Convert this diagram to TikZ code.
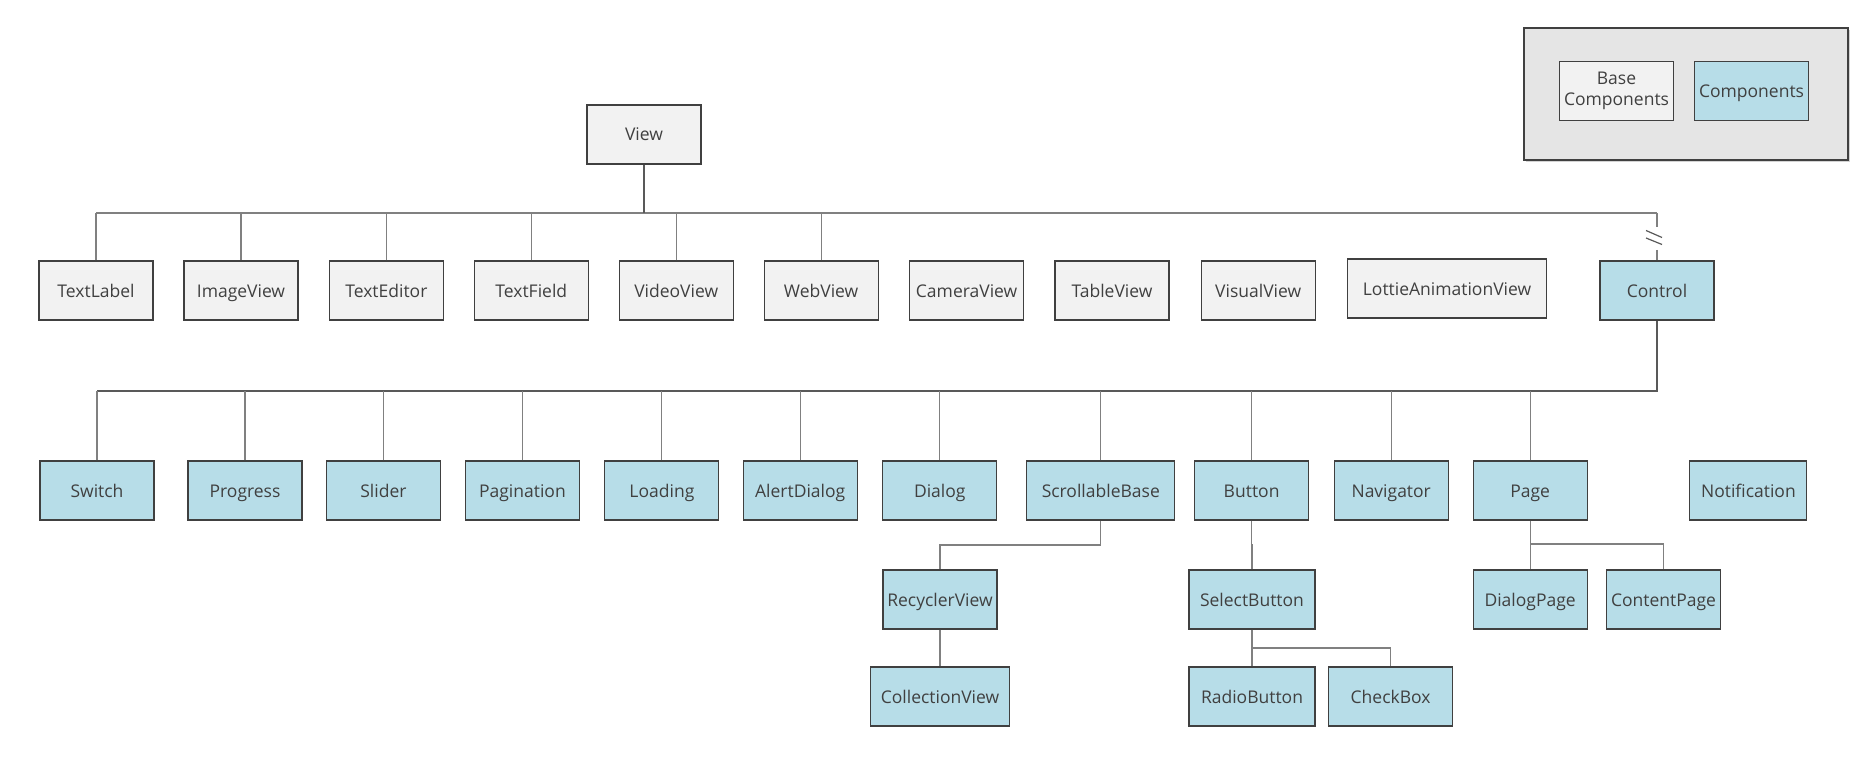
\documentclass[tikz,border=0pt]{standalone}
\usepackage{fontspec}
\setmainfont{Open Sans}
\usetikzlibrary{shadows}
\definecolor{txt}{HTML}{404040}
\definecolor{bfill}{HTML}{F2F2F2}
\definecolor{cfill}{HTML}{B7DDE8}
\definecolor{bord}{HTML}{404040}
\definecolor{ln}{HTML}{808080}
\definecolor{trunk}{HTML}{595959}
\definecolor{legfill}{HTML}{E5E5E5}
\tikzset{
  box/.style={draw=bord, line width=1.1pt, inner sep=2pt, minimum height=59pt,
    minimum width=114pt, text=txt, font=\fontsize{17.5}{21.5}\selectfont, align=center,
    text height=14pt, text depth=1pt},
  basebox/.style={box, fill=bfill},
  compbox/.style={box, fill=cfill},
  conn/.style={draw=ln, line width=1.1pt},
  trunkline/.style={draw=trunk, line width=2pt},
  breakmark/.style={draw=trunk, line width=1.2pt},
}
\begin{document}
\begin{tikzpicture}[x=1pt,y=-1pt]
\useasboundingbox (0,0) rectangle (1870,767);
% legend
\node[draw=bord, line width=1.1pt, fill=legfill, minimum width=324pt, minimum height=132pt,
  drop shadow={shadow xshift=2pt, shadow yshift=-2pt, opacity=0.35}] (legend) at (1686,94) {};
\node[basebox, text height=, text depth=] (legbase) at (1616.5,91) {Base\\Components};
\node[compbox] (legcomp) at (1751.5,91) {Components};
% root
\node[basebox] (view) at (644,134.5) {View};
% row 1
\node[basebox] (textlabel) at (96,290.5) {TextLabel};
\node[basebox] (imageview) at (241,290.5) {ImageView};
\node[basebox] (texteditor) at (386.4,290.5) {TextEditor};
\node[basebox] (textfield) at (531.3,290.5) {TextField};
\node[basebox] (videoview) at (676.2,290.5) {VideoView};
\node[basebox] (webview) at (821.1,290.5) {WebView};
\node[basebox] (cameraview) at (966.6,290.5) {CameraView};
\node[basebox] (tableview) at (1112,290.5) {TableView};
\node[basebox] (visualview) at (1258.2,290.5) {VisualView};
\node[basebox, minimum width=199pt] (lottie) at (1447,288.5) {LottieAnimationView};
\node[compbox] (control) at (1657,290.5) {Control};
% row 2
\node[compbox] (switch) at (97,490.5) {Switch};
\node[compbox] (progress) at (245,490.5) {Progress};
\node[compbox] (slider) at (383.4,490.5) {Slider};
\node[compbox] (pagination) at (522.4,490.5) {Pagination};
\node[compbox] (loading) at (661.9,490.5) {Loading};
\node[compbox] (alertdialog) at (800.2,490.5) {AlertDialog};
\node[compbox] (dialog) at (939.8,490.5) {Dialog};
\node[compbox, minimum width=148pt] (scroll) at (1100.8,490.5) {ScrollableBase};
\node[compbox] (button) at (1251.6,490.5) {Button};
\node[compbox] (navigator) at (1391.2,490.5) {Navigator};
\node[compbox] (page) at (1530.1,490.5) {Page};
\node[compbox, minimum width=117pt] (notification) at (1748.4,490.5) {Notification};
% row 3
\node[compbox] (recycler) at (940,599.5) {RecyclerView};
\node[compbox, minimum width=126pt] (selectbtn) at (1252,599.5) {SelectButton};
\node[compbox] (dialogpage) at (1530.1,599.5) {DialogPage};
\node[compbox] (contentpage) at (1663.5,599.5) {ContentPage};
% row 4
\node[compbox, minimum width=139pt] (collection) at (940,696.5) {CollectionView};
\node[compbox, minimum width=126pt] (radio) at (1252,696.5) {RadioButton};
\node[compbox, minimum width=124pt] (checkbox) at (1390.6,696.5) {CheckBox};
% bus coordinates
\coordinate (b1) at (0,213);
\coordinate (b2) at (0,391);
\coordinate (brk1) at (0,227);
\coordinate (brk2) at (0,250);
% View level
\draw[conn] (textlabel.north |- b1) -- (control.north |- b1);
\draw[trunkline] (view.south) -- (view.south |- b1);
\foreach \n in {textlabel,imageview,texteditor,textfield,videoview,webview}
  \draw[conn] (\n.north) -- (\n.north |- b1);
\draw[conn] (control.north |- b1) -- (control.north |- brk1);
\draw[conn] (control.north |- brk2) -- (control.north);
\draw[breakmark] ([xshift=-11pt]control.north |- 0,230.5) -- ([xshift=5pt]control.north |- 0,237.5);
\draw[breakmark] ([xshift=-11pt]control.north |- 0,238) -- ([xshift=5pt]control.north |- 0,244.5);
% Control level
\draw[trunkline] (control.south) -- (control.south |- b2) -- (switch.north |- b2);
\foreach \n in {switch,progress,slider,pagination,loading,alertdialog,dialog,scroll,button,navigator,page}
  \draw[conn] (\n.north) -- (\n.north |- b2);
% sub-levels
\draw[conn] (scroll.south) -- (scroll.south |- 0,545) -| (recycler.north);
\draw[conn] (recycler.south) -- (collection.north);
\draw[conn] (button.south) -- (button.south |- 0,545) -| (selectbtn.north);
\draw[conn] (selectbtn.south) -- (radio.north);
\draw[conn] (selectbtn.south |- 0,648) -| (checkbox.north);
\draw[conn] (page.south) -- (dialogpage.north);
\draw[conn] (page.south |- 0,544) -| (contentpage.north);
\end{tikzpicture}
\end{document}
